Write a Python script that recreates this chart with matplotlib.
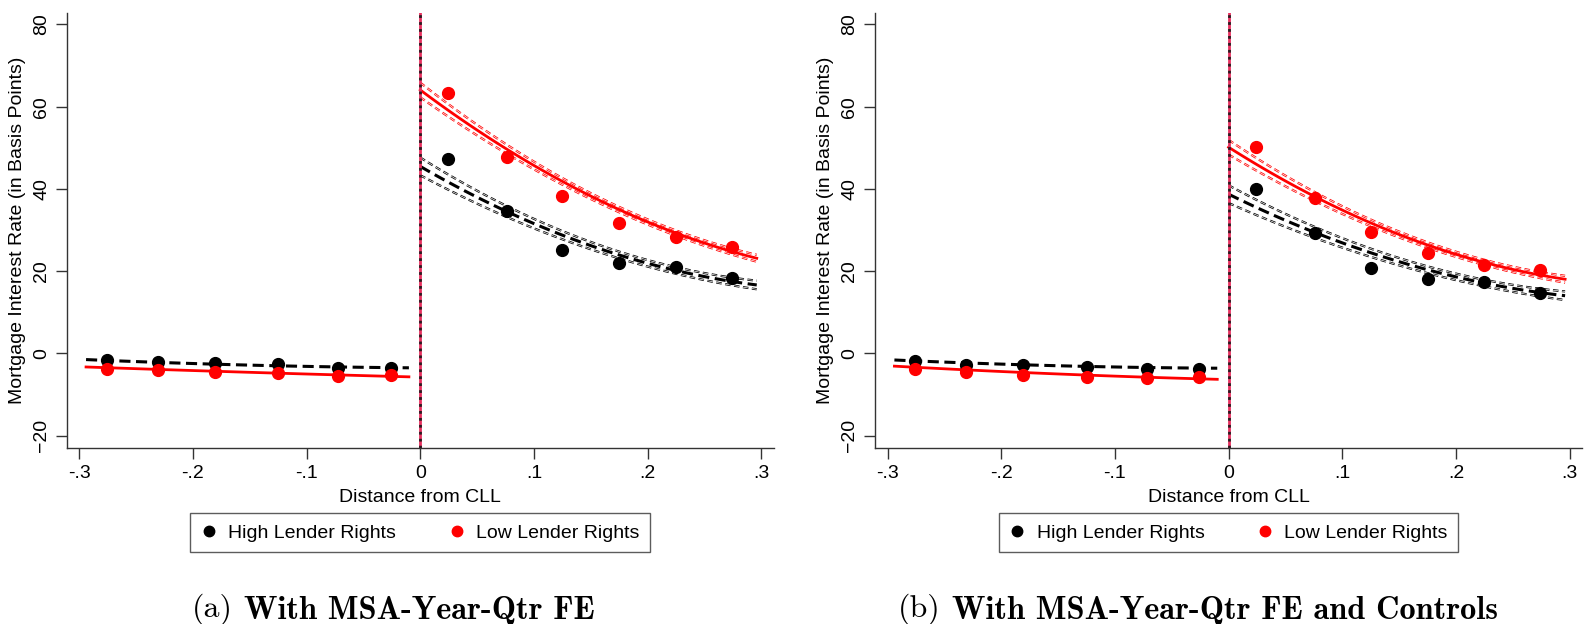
import numpy as np
import matplotlib.pyplot as plt
from matplotlib.lines import Line2D

plt.rcParams['font.family'] = ['Liberation Sans', 'DejaVu Sans']
plt.rcParams['lines.scale_dashes'] = False

# binned scatter points (x = distance from CLL)
bin_x_left = [-0.276, -0.231, -0.181, -0.125, -0.072, -0.026]
bin_x_right = [0.024, 0.076, 0.125, 0.175, 0.225, 0.274]

# panel (a): With MSA-Year-Qtr FE
a_high_left = [-1.6, -2.2, -2.3, -2.6, -3.5, -3.5]
a_low_left = [-3.7, -4.1, -4.5, -4.7, -5.4, -5.3]
a_high_right = [47.2, 34.7, 25.1, 22.1, 21.1, 18.4]
a_low_right = [63.3, 47.8, 38.4, 31.6, 28.2, 25.9]

# panel (b): With MSA-Year-Qtr FE and Controls
b_high_left = [-1.8, -2.7, -2.9, -3.3, -3.7, -3.7]
b_low_left = [-3.7, -4.5, -5.3, -5.8, -6.0, -5.8]
b_high_right = [40.1, 29.2, 20.7, 18.2, 17.3, 14.8]
b_low_right = [50.1, 37.7, 29.6, 24.3, 21.6, 20.3]

# quadratic fit lines
fit_x_left = [-0.294, -0.15, -0.01]
fit_x_right = [0.0, 0.07, 0.145, 0.219, 0.296]

a_fit_high_left = [-1.5, -2.85, -3.5]
a_fit_low_left = [-3.3, -4.6, -5.7]
a_fit_high_right = [45.5, 35.3, 26.6, 20.7, 16.6]
a_fit_low_right = [64.1, 50.7, 38.9, 30.0, 23.1]

b_fit_high_left = [-1.6, -3.0, -3.6]
b_fit_low_left = [-3.1, -5.0, -6.3]
b_fit_high_right = [38.8, 30.0, 22.5, 17.8, 13.9]
b_fit_low_right = [50.4, 38.5, 29.4, 23.1, 17.8]

# half width of the 95% CI bands around the right-side fits
ci_high_right = [2.2, 1.3, 0.9, 0.9, 1.0]
ci_low_right = [1.8, 1.1, 0.7, 0.7, 0.8]

xticks = [-0.3, -0.2, -0.1, 0, 0.1, 0.2, 0.3]
xtick_labels = ['-.3', '-.2', '-.1', '0', '.1', '.2', '.3']
yticks = [-20, 0, 20, 40, 60, 80]

RED = '#ff0000'
BLACK = '#000000'
FS = 14


def qfit(x, y, grid):
    coef = np.polyfit(x, y, 2)
    return np.polyval(coef, grid)


def ci_line(ax, x, y, color):
    ax.plot(x, y, color=color, lw=1.6, dashes=(4, 2.5), zorder=2)
    ax.plot(x, y, color='white', lw=0.5, dashes=(4, 2.5), zorder=2)


def draw_segment(ax, fx, fy, ci, color, solid):
    grid = np.linspace(fx[0], fx[-1], 120)
    fit = qfit(fx, fy, grid)
    if ci is not None:
        hw = qfit(fx, ci, grid)
        ci_line(ax, grid, fit + hw, color)
        ci_line(ax, grid, fit - hw, color)
    if solid:
        ax.plot(grid, fit, color=color, lw=2.0, zorder=3)
    else:
        ax.plot(grid, fit, color=color, lw=2.2, dashes=(8, 4), zorder=3)


def draw_panel(ax, hl, ll, hr, lr, fhl, fll, fhr, flr):
    draw_segment(ax, fit_x_left, fhl, None, BLACK, False)
    draw_segment(ax, fit_x_left, fll, None, RED, True)
    draw_segment(ax, fit_x_right, fhr, ci_high_right, BLACK, False)
    draw_segment(ax, fit_x_right, flr, ci_low_right, RED, True)

    ax.plot(bin_x_left + bin_x_right, hl + hr, 'o', color=BLACK, ms=8.5, zorder=4)
    ax.plot(bin_x_left + bin_x_right, ll + lr, 'o', color=RED, ms=8.5, zorder=4)

    ax.axvline(0, color='#e8305f', lw=2.0, zorder=5)
    ax.axvline(0, color='#2a1a20', lw=2.0, dashes=(2, 3), zorder=5)

    ax.set_xlim(-0.311, 0.311)
    ax.set_ylim(-23.0, 82.8)
    ax.set_xticks(xticks)
    ax.set_xticklabels(xtick_labels)
    ax.set_yticks(yticks)
    for lab in ax.get_yticklabels():
        lab.set_rotation(90)
        lab.set_va('center')
    ax.tick_params(axis='both', labelsize=FS, length=8, width=1, color='#333333', pad=4)
    for side in ['top', 'right']:
        ax.spines[side].set_visible(False)
    for side in ['left', 'bottom']:
        ax.spines[side].set_linewidth(1.0)
        ax.spines[side].set_color('#333333')
    ax.set_xlabel('Distance from CLL', fontsize=FS, labelpad=5)
    ax.set_ylabel('Mortgage Interest Rate (in Basis Points)', fontsize=FS, labelpad=5)

    handles = [
        Line2D([], [], ls='none', marker='o', color=BLACK, ms=7.5),
        Line2D([], [], ls='none', marker='o', color=RED, ms=7.5),
    ]
    leg = ax.legend(handles, ['High Lender Rights', 'Low Lender Rights'], ncol=2,
                    loc='upper center', bbox_to_anchor=(0.5, -0.150), fontsize=FS,
                    frameon=True, fancybox=False, edgecolor='#333333',
                    handlelength=0.8, handletextpad=0.6, columnspacing=2.7,
                    borderpad=0.55, borderaxespad=0)
    leg.get_frame().set_linewidth(1.0)


fig = plt.figure(figsize=(15.85, 6.24), dpi=100)
ax1 = fig.add_axes([0.0421, 0.2821, 0.4461, 0.6971])
ax2 = fig.add_axes([0.5521, 0.2821, 0.4461, 0.6971])

draw_panel(ax1, a_high_left, a_low_left, a_high_right, a_low_right,
           a_fit_high_left, a_fit_low_left, a_fit_high_right, a_fit_low_right)
draw_panel(ax2, b_high_left, b_low_left, b_high_right, b_low_right,
           b_fit_high_left, b_fit_low_left, b_fit_high_right, b_fit_low_right)

cap_y = 1 - 617 / 624
for x0, tag, title in [(192, '(a)', 'With MSA-Year-Qtr FE'),
                       (898, '(b)', 'With MSA-Year-Qtr FE and Controls')]:
    t = fig.text(x0 / 1585, cap_y, tag, family='cmr10', fontsize=23, va='baseline')
    ax1.annotate(title, xy=(1, 0), xycoords=t, xytext=(8, 0), textcoords='offset points',
                 family='cmb10', fontsize=23.3, va='bottom', ha='left', annotation_clip=False)

fig.savefig('out.png', dpi=100)
